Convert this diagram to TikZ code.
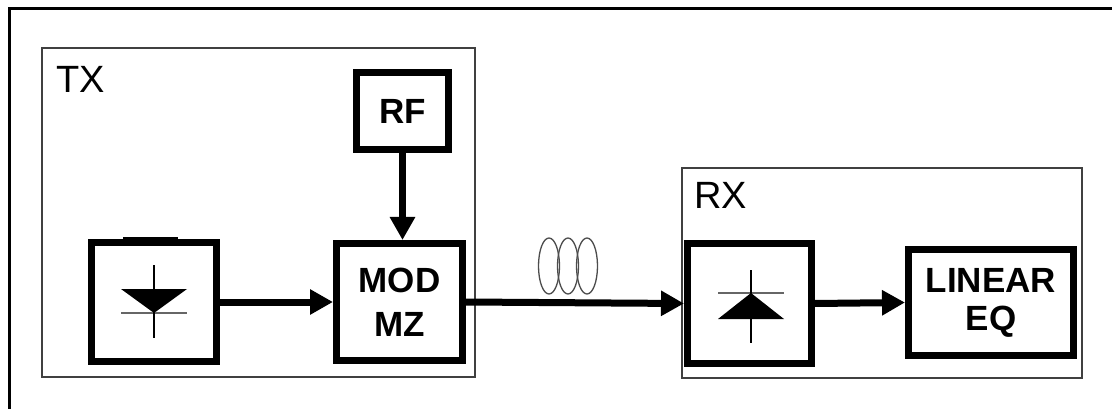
\documentclass[tikz,border=0pt]{standalone}
\usepackage{fontspec}
\setmainfont{Liberation Sans}
\usepackage{tikz}
\usetikzlibrary{calc, positioning, arrows.meta}

\begin{document}
\begin{tikzpicture}[x=1pt, y=-1pt,
        block/.style={draw, line width=7pt, rectangle, inner sep=0pt, align=center,
            font=\fontsize{35}{44}\selectfont\bfseries},
        unit/.style={draw=black!75, line width=2pt},
        link/.style={line width=7pt, -{Triangle[length=23pt, width=24pt]}},
        tag/.style={anchor=base west, inner sep=0pt, font=\fontsize{38}{38}\selectfont}]
            \useasboundingbox (0,0) rectangle (1112,409);

            % frame and the two units
            \draw[line width=3pt] (9,409) -- (9,9) -- (1112,9);
            \draw[unit] (42,48) rectangle (475,377);
            \draw[unit] (682,168) rectangle (1082,378);
            \node[tag] (tx) at (56,93) {TX};
            \node[tag] (rx) at (694,208) {RX};

            % blocks
            \node[block, minimum width=125pt, minimum height=119pt] (laser) at (154,302) {};
            \node[block, minimum width=126pt, minimum height=117pt] (mod) at (399.5,302) {MOD\\MZ};
            \node[block, minimum width=92pt, minimum height=77pt] (rf) at (402.5,111) {RF};
            \node[block, minimum width=124pt, minimum height=120pt] (pd) at (749.5,303.5) {};
            \node[block, minimum width=165pt, minimum height=106pt,
                font=\fontsize{35}{38}\selectfont\bfseries] (eq) at (991,302.5) {LINEAR\\EQ};

            % laser diode
            \draw[line width=3pt] ($(laser.north)+(-31,-1)$) -- ++(55,0);
            \fill ($(laser)+(-33,-13)$) -- ($(laser)+(33,-13)$) -- ($(laser)+(0,11)$) -- cycle;
            \draw[black!60, line width=2pt] ($(laser)+(-33,11)$) -- ($(laser)+(33,11)$);
            \draw[line width=2pt] ($(laser)+(0,-37)$) -- ($(laser)+(0,36)$);

            % photodiode
            \fill ($(pd)+(-31.5,15.5)$) -- ($(pd)+(34.5,15.5)$) -- ($(pd)+(1.5,-10.5)$) -- cycle;
            \draw[black!60, line width=2pt] ($(pd)+(-31.5,-10.5)$) -- ($(pd)+(34.5,-10.5)$);
            \draw[line width=2pt] ($(pd)+(1.5,-33.5)$) -- ($(pd)+(1.5,39.5)$);

            % connections
            \draw[link] (laser.east) -- (mod.west);
            \draw[link] (rf.south) -- (rf.south |- mod.north);
            \draw[link] (mod.east) -- (pd.west);
            \draw[link] (pd.east) -- (eq.west);

            % fibre spool
            \draw[black!70, line width=1.3pt] (549,266) ellipse (10.5 and 28);
            \draw[black!70, line width=1.3pt] (568,266) ellipse (10.5 and 28);
            \draw[black!70, line width=1.3pt] (587,266) ellipse (10.5 and 28);
        \end{tikzpicture}
\end{document}
